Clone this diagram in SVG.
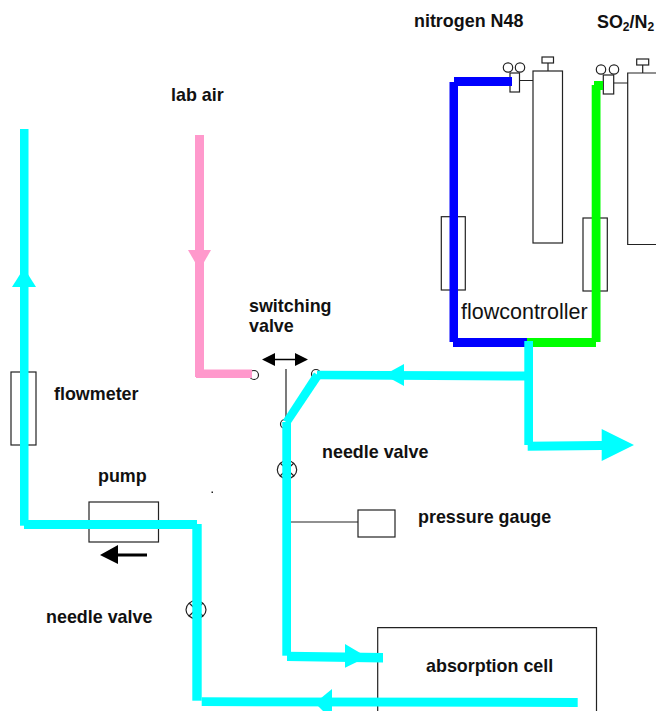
<svg xmlns="http://www.w3.org/2000/svg" width="656" height="711" viewBox="0 0 656 711">
<style>
.o{fill:none;stroke:#222;stroke-width:1.2}
.t{font-family:"Liberation Sans",Arial,sans-serif;font-size:17.9px;font-weight:bold;fill:#111}
.c{fill:#00ffff}.b{fill:#0000ff}.g{fill:#00ff00}.p{fill:#ff99cc}
</style>
<rect width="656" height="711" fill="#fff"/>
<g id="nitrogen-cylinder">
<rect class="o" x="533" y="71" width="29.5" height="172"/>
<rect class="o" x="542" y="57" width="11.5" height="6"/>
<path class="o" d="M548 63V71M519.5 80.5H533"/>
<rect class="o" x="510" y="73" width="9.5" height="19"/>
<circle class="o" cx="508" cy="67.5" r="4.7"/><circle class="o" cx="520" cy="67.5" r="4.7"/>
<text class="t" x="414" y="27">nitrogen N48</text>
</g>
<g id="so2-cylinder">
<path class="o" d="M656 73H627.7V244.5H656"/>
<rect class="o" x="636.7" y="59" width="12" height="6"/>
<path class="o" d="M642.7 65V73M613.7 83H628"/>
<rect class="o" x="603.3" y="75" width="10.4" height="19"/>
<circle class="o" cx="601" cy="69.5" r="4.7"/><circle class="o" cx="614" cy="69.5" r="4.7"/>
<text class="t" x="597" y="28">SO<tspan font-size="12" dy="3">2</tspan><tspan dy="-3">/N</tspan><tspan font-size="12" dy="3">2</tspan></text>
</g>
<g id="flowcontroller">
<rect class="o" x="441.3" y="216.7" width="24" height="73.3"/>
<rect class="o" x="583" y="218" width="24.3" height="73"/>
<text x="461" y="319" style="font-family:'Liberation Sans',Arial,sans-serif;font-size:21.5px;fill:#111">flowcontroller</text>
</g>
<g id="lab-air"><text class="t" x="171" y="101">lab air</text></g>
<g id="switching-valve">
<circle class="o" cx="254" cy="375" r="4.5"/><circle class="o" cx="316" cy="374" r="4.5"/><circle class="o" cx="285" cy="424" r="4.5"/>
<path class="o" d="M286 369V420"/>
<path d="M262 359.5L275 353V358.8H295V353L308 359.5L295 366V360.2H275V366Z" fill="#000"/>
<text class="t" x="249" y="312">switching</text><text class="t" x="249" y="332">valve</text>
</g>
<g id="needle-valve-1">
<ellipse class="o" cx="287" cy="469.7" rx="9.7" ry="9"/><path class="o" d="M280 463L294 476M294 463L280 476"/>
<text class="t" x="322" y="458">needle valve</text>
</g>
<g id="needle-valve-2">
<ellipse class="o" cx="196" cy="609.7" rx="10" ry="9"/><path class="o" d="M189 603L203 616M203 603L189 616"/>
<text class="t" x="46" y="623">needle valve</text>
</g>
<g id="flowmeter">
<rect class="o" x="11" y="372" width="25" height="73"/>
<text class="t" x="54" y="400">flowmeter</text>
</g>
<g id="pump">
<rect class="o" x="89" y="502" width="69.5" height="40"/>
<text class="t" x="98" y="482">pump</text>
<path d="M147 553.5V556.5H118V564L100 555L118 545V553.5Z" fill="#000"/>
</g>
<g id="pressure-gauge">
<path class="o" d="M291 522H358"/>
<rect class="o" x="358" y="510" width="37" height="27"/>
<text class="t" x="418" y="523">pressure gauge</text>
</g>
<g id="absorption-cell">
<path class="o" d="M377.7 711V627.7H596.5V711"/>
<text class="t" x="426" y="672">absorption cell</text>
</g>
<rect x="211.5" y="491.5" width="1.5" height="1.5" fill="#222"/>
<g id="connectors">
<rect class="p" x="195" y="135" width="9" height="242"/>
<rect class="p" x="196" y="369.5" width="56" height="8.5"/>
<path class="p" d="M188 250H211L199.5 270Z"/>
<rect class="b" x="449.5" y="82" width="8.5" height="260"/>
<rect class="b" x="454" y="77" width="58" height="9"/>
<rect class="b" x="453" y="338" width="74" height="9"/>
<rect class="g" x="591.7" y="85" width="8.8" height="257"/>
<rect class="g" x="594" y="81" width="9" height="9"/>
<rect class="g" x="527" y="338" width="69" height="9"/>
<rect class="c" x="524.3" y="341" width="8.7" height="104"/>
<path class="c" d="M527.7 441.7L601.7 441V429L634 445L601.7 461V450L527.7 450.7Z"/>
<path class="c" d="M527 371.5V380.5L317 379.3V370.7Z"/>
<path class="c" d="M384 375L404 364V386Z"/>
<path class="c" d="M314 372.5L321.5 377.5L290 424.5L283 420Z"/>
<rect class="c" x="282.3" y="422" width="8.7" height="233.7"/>
<path class="c" d="M287 651.7L383 653V662.5L287 661Z"/>
<path class="c" d="M345 644L367 657L345 667.7Z"/>
<rect class="c" x="20" y="129" width="8.5" height="396.7"/>
<path class="c" d="M24 268L36 287H12Z"/>
<rect class="c" x="24" y="520" width="173" height="9"/>
<rect class="c" x="192.3" y="524" width="9.4" height="176.7"/>
<path class="c" d="M201.7 697.3L577.7 698V707L201.7 706Z"/>
<path class="c" d="M315 703L332 689V711H323Z"/>
</g>
</svg>
